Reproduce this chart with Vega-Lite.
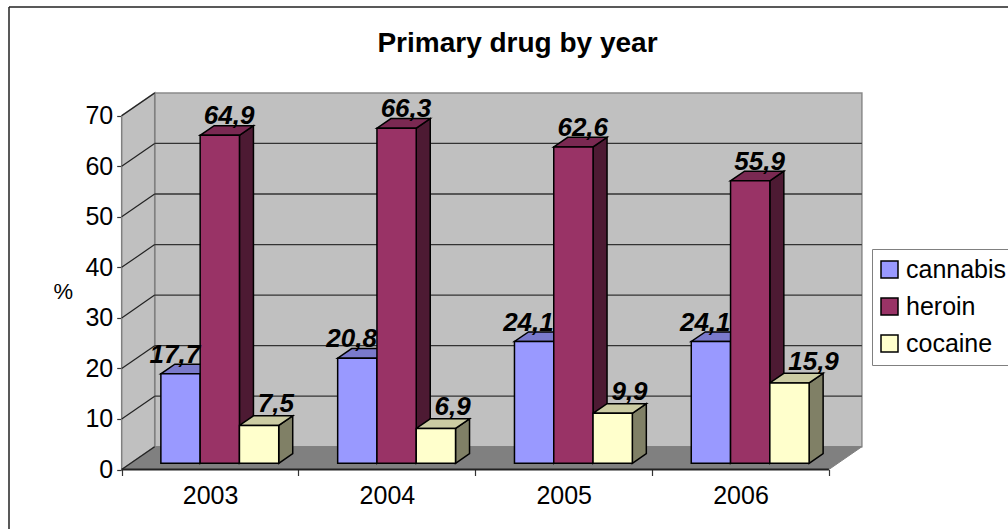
{
  "$schema": "https://vega.github.io/schema/vega-lite/v6.json",
  "autosize": {"type": "none"},
  "padding": {"left": 9, "top": 7, "right": 0, "bottom": 0},
  "width": 999,
  "height": 522,
  "background": "white",
  "view": {"stroke": null},
  "config": {"font": "Liberation Sans"},
  "title": {"text": "Primary drug by year", "fontSize": 28, "fontWeight": "bold", "font": "Liberation Sans", "color": "black", "anchor": "middle", "frame": "group", "dx": 9, "offset": -74, "baseline": "alphabetic"},
  "datasets": {
    "drugs": [
      {"year": 2003, "drug": "cannabis", "value": 17.7},
      {"year": 2003, "drug": "heroin", "value": 64.9},
      {"year": 2003, "drug": "cocaine", "value": 7.5},
      {"year": 2004, "drug": "cannabis", "value": 20.8},
      {"year": 2004, "drug": "heroin", "value": 66.3},
      {"year": 2004, "drug": "cocaine", "value": 6.9},
      {"year": 2005, "drug": "cannabis", "value": 24.1},
      {"year": 2005, "drug": "heroin", "value": 62.6},
      {"year": 2005, "drug": "cocaine", "value": 9.9},
      {"year": 2006, "drug": "cannabis", "value": 24.1},
      {"year": 2006, "drug": "heroin", "value": 55.9},
      {"year": 2006, "drug": "cocaine", "value": 15.9}
    ],
    "levels": [{"v": 0}, {"v": 10}, {"v": 20}, {"v": 30}, {"v": 40}, {"v": 50}, {"v": 60}, {"v": 70}],
    "single": [{"n": 1}]
  },
  "layer": [
    {
      "data": {"name": "single"},
      "mark": {"type": "rule", "stroke": "#222222", "strokeWidth": 1.5},
      "encoding": {
        "x": {"datum": -0.6374, "type": "quantitative", "axis": null, "scale": {"domain": [-0.6374, 5.0131], "nice": false, "zero": false}},
        "y": {"datum": -11.77, "type": "quantitative", "axis": null, "scale": {"domain": [-11.77, 91.51], "nice": false, "zero": false}},
        "y2": {"datum": 91.51}
      }
    },
    {
      "data": {"name": "single"},
      "mark": {"type": "rule", "stroke": "#222222", "strokeWidth": 1.5},
      "encoding": {
        "x": {"datum": -0.6374, "type": "quantitative", "axis": null},
        "x2": {"datum": 5.0131},
        "y": {"datum": 91.51, "type": "quantitative", "axis": null}
      }
    },
    {
      "data": {"name": "single"},
      "mark": {"type": "rect", "fill": "#C0C0C0", "stroke": "#8A8A8A", "strokeWidth": 1.5},
      "encoding": {
        "x": {"datum": 0.1867, "type": "quantitative", "axis": null},
        "x2": {"datum": 4.1867},
        "y": {"datum": 4.51, "type": "quantitative", "axis": null},
        "y2": {"datum": 74.51}
      }
    },
    {
      "data": {"values": [{"u": 0, "lo": 0, "hi": 70}, {"u": 0.1867, "lo": 4.51, "hi": 74.51}]},
      "mark": {"type": "area", "fill": "#C0C0C0", "stroke": "#808080", "strokeWidth": 1.5},
      "encoding": {
        "x": {"field": "u", "type": "quantitative", "axis": null},
        "y": {"field": "lo", "type": "quantitative", "axis": null},
        "y2": {"field": "hi"}
      }
    },
    {
      "data": {"values": [{"u": 0, "lo": 0, "hi": 0}, {"u": 0.1867, "lo": 0, "hi": 4.51}, {"u": 4, "lo": 0, "hi": 4.51}, {"u": 4.1867, "lo": 4.51, "hi": 4.51}]},
      "mark": {"type": "area", "fill": "#808080", "stroke": "#808080", "strokeWidth": 1},
      "encoding": {
        "x": {"field": "u", "type": "quantitative", "axis": {"values": [0, 1, 2, 3, 4], "orient": "bottom", "offset": -59.5, "labels": false, "domain": false, "grid": false, "title": null, "tickColor": "#333333", "tickSize": 6, "tickWidth": 1.2}},
        "y": {"field": "lo", "type": "quantitative", "axis": null},
        "y2": {"field": "hi"}
      }
    },
    {
      "data": {"name": "levels"},
      "transform": [{"filter": "datum.v > 0 && datum.v < 70"}, {"calculate": "datum.v + 4.51", "as": "back"}],
      "mark": {"type": "rule", "stroke": "#333333", "strokeWidth": 1.3},
      "encoding": {
        "x": {"datum": 0.1867, "type": "quantitative", "axis": null},
        "x2": {"datum": 4.1867},
        "y": {"field": "back", "type": "quantitative", "axis": null}
      }
    },
    {
      "data": {"name": "levels"},
      "transform": [{"calculate": "datum.v + 4.51", "as": "back"}],
      "mark": {"type": "rule", "stroke": "#222222", "strokeWidth": 1.2},
      "encoding": {
        "x": {"datum": 0, "type": "quantitative", "axis": null},
        "x2": {"datum": 0.1867},
        "y": {"field": "v", "type": "quantitative", "axis": {"values": [0, 10, 20, 30, 40, 50, 60, 70], "orient": "left", "offset": -112.7, "domain": false, "grid": false, "tickColor": "#333333", "tickSize": 5, "tickWidth": 1.2, "labelFontSize": 25, "labelColor": "black", "labelPadding": 4, "title": "%", "titleFontSize": 22, "titleFontWeight": "normal", "titleColor": "black", "titleAngle": 0, "titleX": -59, "titleY": 284, "titleAlign": "center", "titleBaseline": "middle"}},
        "y2": {"field": "back"}
      }
    },
    {
      "data": {"name": "single"},
      "mark": {"type": "rule", "stroke": "#222222", "strokeWidth": 2},
      "encoding": {
        "x": {"datum": 0, "type": "quantitative", "axis": {"values": [0.5, 1.5, 2.5, 3.5], "orient": "bottom", "offset": -59.5, "ticks": false, "domain": false, "grid": false, "title": null, "labelExpr": "'' + (2003 + floor(datum.value))", "labelFontSize": 25, "labelColor": "black", "labelPadding": 14, "labelFlush": false, "labelOverlap": false}},
        "x2": {"datum": 4},
        "y": {"datum": 0, "type": "quantitative", "axis": null}
      }
    },
    {
      "data": {"name": "drugs"},
      "transform": [
        {"calculate": "indexof(['cannabis','heroin','cocaine'], datum.drug)", "as": "j"},
        {"calculate": "datum.year - 2003 + 0.2216 + datum.j * 0.2222", "as": "left"},
        {"calculate": "datum.left + 0.2222", "as": "right"},
        {"calculate": "datum.value + 1.227", "as": "top"},
        {"calculate": "[0, 1]", "as": "t"},
        {"flatten": ["t"]},
        {"calculate": "datum.right + datum.t * 0.0792", "as": "px"},
        {"calculate": "1.227 + datum.t * 1.9", "as": "low"},
        {"calculate": "datum.top + datum.t * 1.9", "as": "high"},
        {"calculate": "datum.year + datum.drug", "as": "bar"}
      ],
      "mark": {"type": "area", "stroke": "black", "strokeWidth": 1.5, "strokeJoin": "miter"},
      "encoding": {
        "x": {"field": "px", "type": "quantitative", "axis": null},
        "y": {"field": "low", "type": "quantitative", "axis": null},
        "y2": {"field": "high"},
        "detail": {"field": "bar"},
        "fill": {"field": "drug", "type": "nominal", "legend": null, "scale": {"domain": ["cannabis", "heroin", "cocaine"], "range": ["#4D4D80", "#4D1A33", "#808066"]}}
      }
    },
    {
      "data": {"name": "drugs"},
      "transform": [
        {"calculate": "indexof(['cannabis','heroin','cocaine'], datum.drug)", "as": "j"},
        {"calculate": "datum.year - 2003 + 0.2216 + datum.j * 0.2222", "as": "left"},
        {"calculate": "datum.left + 0.2222", "as": "right"},
        {"calculate": "datum.value + 1.227", "as": "top"},
        {"calculate": "[0, 1, 2, 3]", "as": "t"},
        {"flatten": ["t"]},
        {"calculate": "[datum.left, datum.left + 0.0792, datum.right, datum.right + 0.0792][datum.t]", "as": "px"},
        {"calculate": "[datum.top, datum.top, datum.top, datum.top + 1.9][datum.t]", "as": "low"},
        {"calculate": "[datum.top, datum.top + 1.9, datum.top + 1.9, datum.top + 1.9][datum.t]", "as": "high"},
        {"calculate": "datum.year + datum.drug", "as": "bar"}
      ],
      "mark": {"type": "area", "stroke": "black", "strokeWidth": 1.5, "strokeJoin": "miter"},
      "encoding": {
        "x": {"field": "px", "type": "quantitative", "axis": null},
        "y": {"field": "low", "type": "quantitative", "axis": null},
        "y2": {"field": "high"},
        "detail": {"field": "bar"},
        "fill": {"field": "drug", "type": "nominal", "legend": null, "scale": {"domain": ["cannabis", "heroin", "cocaine"], "range": ["#7A7ACC", "#7A2952", "#CCCCA3"]}}
      }
    },
    {
      "data": {"name": "drugs"},
      "transform": [
        {"calculate": "indexof(['cannabis','heroin','cocaine'], datum.drug)", "as": "j"},
        {"calculate": "datum.year - 2003 + 0.2216 + datum.j * 0.2222", "as": "left"},
        {"calculate": "datum.left + 0.2222", "as": "right"},
        {"calculate": "datum.value + 1.227", "as": "top"},
        {"calculate": "1.227", "as": "base"}
      ],
      "mark": {"type": "bar", "stroke": "black", "strokeWidth": 1.5},
      "encoding": {
        "x": {"field": "left", "type": "quantitative", "axis": null},
        "x2": {"field": "right"},
        "y": {"field": "base", "type": "quantitative", "axis": null},
        "y2": {"field": "top"},
        "fill": {
          "field": "drug", "type": "nominal",
          "scale": {"domain": ["cannabis", "heroin", "cocaine"], "range": ["#9999FF", "#993366", "#FFFFCC"]},
          "legend": {"title": null, "orient": "none", "legendX": 863, "legendY": 242, "symbolType": "square", "symbolSize": 289, "symbolStrokeColor": "black", "symbolStrokeWidth": 1.5, "symbolOffset": -3, "labelFontSize": 25, "labelColor": "black", "labelOffset": 4, "rowPadding": 11, "padding": 8, "strokeColor": "#808080", "fillColor": "white"}
        }
      }
    },
    {
      "data": {"name": "drugs"},
      "transform": [
        {"calculate": "indexof(['cannabis','heroin','cocaine'], datum.drug)", "as": "j"},
        {"filter": "datum.j == 0"},
        {"calculate": "datum.year - 2003 + 0.2216 + 0.2222", "as": "anchorX"},
        {"calculate": "datum.value + 1.227", "as": "top"},
        {"calculate": "replace(format(datum.value, '.1f'), '.', ',')", "as": "label"}
      ],
      "mark": {"type": "text", "align": "right", "baseline": "alphabetic", "dy": -11, "fontSize": 26, "fontStyle": "italic", "fontWeight": "bold", "fill": "black"},
      "encoding": {
        "x": {"field": "anchorX", "type": "quantitative", "axis": null},
        "y": {"field": "top", "type": "quantitative", "axis": null},
        "text": {"field": "label"}
      }
    },
    {
      "data": {"name": "drugs"},
      "transform": [
        {"calculate": "indexof(['cannabis','heroin','cocaine'], datum.drug)", "as": "j"},
        {"filter": "datum.j == 1"},
        {"calculate": "datum.year - 2003 + 0.2216 + 0.2222 + 0.164", "as": "anchorX"},
        {"calculate": "datum.value + 1.227", "as": "top"},
        {"calculate": "replace(format(datum.value, '.1f'), '.', ',')", "as": "label"}
      ],
      "mark": {"type": "text", "align": "center", "baseline": "alphabetic", "dy": -11, "fontSize": 26, "fontStyle": "italic", "fontWeight": "bold", "fill": "black"},
      "encoding": {
        "x": {"field": "anchorX", "type": "quantitative", "axis": null},
        "y": {"field": "top", "type": "quantitative", "axis": null},
        "text": {"field": "label"}
      }
    },
    {
      "data": {"name": "drugs"},
      "transform": [
        {"calculate": "indexof(['cannabis','heroin','cocaine'], datum.drug)", "as": "j"},
        {"filter": "datum.j == 2"},
        {"calculate": "datum.year - 2003 + 0.2176 + 0.4444 + 0.108", "as": "anchorX"},
        {"calculate": "datum.value + 1.227", "as": "top"},
        {"calculate": "replace(format(datum.value, '.1f'), '.', ',')", "as": "label"}
      ],
      "mark": {"type": "text", "align": "left", "baseline": "alphabetic", "dy": -13, "fontSize": 26, "fontStyle": "italic", "fontWeight": "bold", "fill": "black"},
      "encoding": {
        "x": {"field": "anchorX", "type": "quantitative", "axis": null},
        "y": {"field": "top", "type": "quantitative", "axis": null},
        "text": {"field": "label"}
      }
    }
  ],
  "resolve": {
    "scale": {"fill": "independent"},
    "axis": {"x": "independent", "y": "independent"}
  }
}
